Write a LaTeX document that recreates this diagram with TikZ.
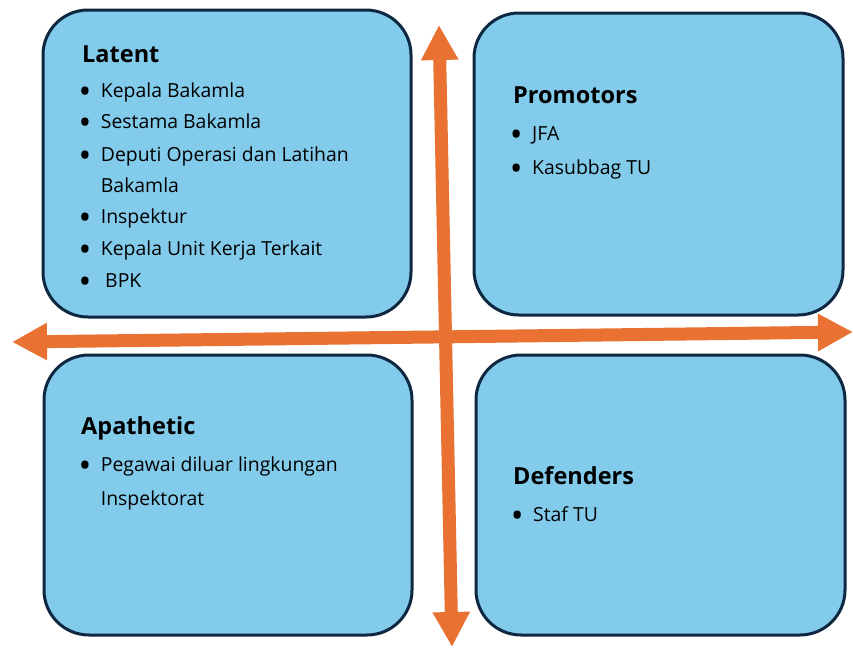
\documentclass[tikz,border=0pt]{standalone}
\usepackage{fontspec}
\setmainfont{Open Sans}
\usetikzlibrary{arrows.meta}
\definecolor{quadfill}{HTML}{83CBEB}
\definecolor{quadline}{HTML}{0E2841}
\definecolor{axisorange}{HTML}{E97132}
\tikzset{
  quad/.style={draw=quadline, fill=quadfill, line width=3pt, rounded corners=45pt, inner sep=0pt},
  head/.style={anchor=base west, inner sep=0pt, font=\fontsize{23.5}{28}\selectfont\bfseries},
  item/.style={anchor=base west, inner sep=0pt, font=\fontsize{19.4}{23}\selectfont},
  axis/.style={draw=axisorange, line width=13pt, {Triangle[length=35pt,width=35pt]}-{Triangle[length=35pt,width=35pt]}, axisorange}
}
% bullet hung to the left of the item text
\newcommand{\bulmark}{\raisebox{-6.6pt}{\scalebox{1.75}{\textbullet}}}
\newcommand{\bul}{\llap{\bulmark\hspace{9.5pt}}}
\begin{document}
\begin{tikzpicture}[x=1pt,y=-1pt]
\useasboundingbox (0,0) rectangle (853,648);
\fill[white] (0,0) rectangle (853,648);

% four quadrants
\node[quad, minimum width=368pt, minimum height=307pt] (latent) at (227,163.5) {};
\node[quad, minimum width=369pt, minimum height=302pt] (promo) at (658.5,164) {};
\node[quad, minimum width=368pt, minimum height=280pt] (apath) at (228,495) {};
\node[quad, minimum width=369pt, minimum height=280pt] (defen) at (660.5,495) {};

% Latent
\node[head] (latentT) at (82,62) {Latent};
\node[item] (l1) at (100.7,97) {\bul Kepala Bakamla};
\node[item] (l2) at (100.7,128) {\bul Sestama Bakamla};
\node[item] (l3) at (100.7,161) {\bul Deputi Operasi dan Latihan};
\node[item] (l3b) at (100.7,192) {Bakamla};
\node[item] (l4) at (100.7,223) {\bul Inspektur};
\node[item] (l5) at (100.7,255) {\bul Kepala Unit Kerja Terkait};
\node[item] (l6) at (105,287) {\llap{\bulmark\hspace{13.8pt}}BPK};

% Promotors
\node[head] (promoT) at (513,103) {Promotors};
\node[item] (p1) at (532,140) {\bul JFA};
\node[item] (p2) at (532,174) {\bul Kasubbag TU};

% Apathetic
\node[head] (apathT) at (81,434) {Apathetic};
\node[item] (a1) at (100.7,471) {\bul Pegawai diluar lingkungan};
\node[item] (a1b) at (100.7,505) {Inspektorat};

% Defenders
\node[head] (defenT) at (513,484) {Defenders};
\node[item] (d1) at (533,521) {\bul Staf TU};

% axes
\coordinate (hl) at (12,342);
\coordinate (hr) at (853,332);
\coordinate (vt) at (439,25);
\coordinate (vb) at (452,647);
\draw[axis] (hl) -- (hr);
\draw[axis] (vt) -- (vb);
\end{tikzpicture}
\end{document}
